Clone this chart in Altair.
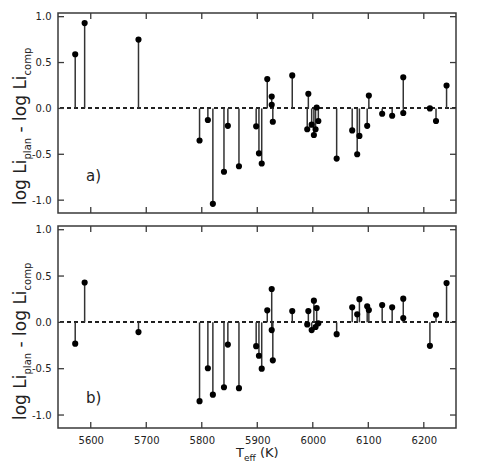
import altair as alt
import pandas as pd

# Effective temperatures (K) of the stars (shared by both panels)
T = [5572, 5589, 5686, 5796, 5811, 5820, 5840, 5847, 5867, 5898, 5903, 5908,
     5918, 5926, 5926, 5928, 5963, 5990, 5992, 5998, 6002, 6005, 6007, 6010,
     6043, 6071, 6080, 6084, 6098, 6101, 6125, 6143, 6163, 6163, 6211, 6222, 6241]
# panel a) log Li_plan - log Li_comp
dA = [0.59, 0.93, 0.75, -0.35, -0.126, -1.04, -0.69, -0.19, -0.63, -0.195, -0.49, -0.60,
      0.32, 0.13, 0.04, -0.145, 0.36, -0.227, 0.16, -0.177, -0.29, -0.227, 0.01, -0.137,
      -0.547, -0.24, -0.50, -0.30, -0.19, 0.14, -0.058, -0.08, 0.34, -0.05, 0.0, -0.137, 0.25]
# panel b)
dB = [-0.23, 0.43, -0.105, -0.85, -0.495, -0.78, -0.70, -0.24, -0.71, -0.257, -0.36, -0.50,
      0.13, 0.36, -0.083, -0.41, 0.122, -0.022, 0.122, -0.083, 0.234, -0.05, 0.155, -0.01,
      -0.127, 0.162, 0.087, 0.25, 0.173, 0.133, 0.187, 0.162, 0.256, 0.047, -0.253, 0.082, 0.425]

yticks = [-1.0, -0.5, 0.0, 0.5, 1.0]
xticks = [5600, 5700, 5800, 5900, 6000, 6100, 6200]
panel_labels = ["a)", "b)"]
ytitle = ["log Li", "plan", "- log Li", "comp"]
xtitle = ["T", "eff", "(K)"]

W = 398
XDOM = [5541, 6258]
YDOM = [-1.14, 1.04]
FONT = "DejaVu Sans"
INK = "#222222"
FRAME = "#3a3a3a"

EM = {" ": 0.318, "-": 0.361, "(": 0.390, ")": 0.390, "K": 0.656, "L": 0.557, "T": 0.611,
      "a": 0.613, "c": 0.550, "e": 0.615, "f": 0.352, "g": 0.635, "i": 0.278, "l": 0.278,
      "m": 0.974, "n": 0.634, "o": 0.612, "p": 0.635}


def tw(s, size):
    return sum(EM.get(c, 0.6) for c in s) * size


xscale = alt.Scale(domain=XDOM, nice=False, zero=False)
yscale = alt.Scale(domain=YDOM, nice=False, zero=False)
yaxis = alt.Axis(values=yticks, ticks=False, tickSize=0, domain=False, grid=False,
                 labelPadding=7, title=None,
                 labelExpr="replace(format(datum.value, '.1f'), '\u2212', '-')")


def panel(vals, label, label_y, H, bottom):
    df = pd.DataFrame({"T": T, "v": vals})
    xaxis = (alt.Axis(values=xticks, ticks=False, tickSize=0, domain=False, grid=False,
                      labelPadding=7, title=None, format="d")
             if bottom else None)
    X = alt.X("T:Q", scale=xscale, axis=xaxis)
    Y = alt.Y("v:Q", scale=yscale, axis=yaxis)

    zero = alt.Chart(df).mark_rule(color="#222222", strokeWidth=1.0, strokeDash=[4, 3]).encode(
        y=alt.datum(0))
    stems = alt.Chart(df).mark_rule(color="#333333", strokeWidth=1.5).encode(
        x=X, y=Y, y2=alt.datum(0))
    pts = alt.Chart(df).mark_circle(size=38, color="black", opacity=1).encode(x=X, y=Y)

    ydf = pd.DataFrame({"v": yticks})
    xdf = pd.DataFrame({"T": xticks})
    tk = dict(color=FRAME, strokeWidth=1.3)
    lt = alt.Chart(ydf).mark_rule(**tk).encode(y=Y, x=alt.value(0), x2=alt.value(6))
    rt = alt.Chart(ydf).mark_rule(**tk).encode(y=Y, x=alt.value(W), x2=alt.value(W - 6))
    tt = alt.Chart(xdf).mark_rule(**tk).encode(x=X, y=alt.value(0), y2=alt.value(6))
    bt = alt.Chart(xdf).mark_rule(**tk).encode(x=X, y=alt.value(H), y2=alt.value(H - 6))

    layers = [zero, stems, pts, lt, rt, tt, bt]

    lab = alt.Chart(pd.DataFrame({"t": [label]})).mark_text(
        font=FONT, fontSize=15, color=INK, align="left", baseline="alphabetic").encode(
        text="t:N", x=alt.value(28), y=alt.value(label_y))
    layers.append(lab)

    # rotated y-axis title with subscripts
    y0 = H - 8
    main_x, sub_x = -32, -27
    sizes = [17, 10, 17, 10]
    pos = []
    cur = y0
    for i, s in enumerate(ytitle):
        pos.append(cur)
        cur -= tw(s, sizes[i])
        if i == 1:
            cur -= tw(" ", 17)
    for i, s in enumerate(ytitle):
        layers.append(alt.Chart(pd.DataFrame({"t": [s]})).mark_text(
            font=FONT, fontSize=sizes[i], color=INK, angle=270, align="left",
            baseline="alphabetic").encode(
            text="t:N", x=alt.value(main_x if sizes[i] == 17 else sub_x),
            y=alt.value(pos[i])))

    if bottom:
        xs = [13, 9, 13]
        cx = 178
        for i, s in enumerate(xtitle):
            layers.append(alt.Chart(pd.DataFrame({"t": [s]})).mark_text(
                font=FONT, fontSize=xs[i], color=INK, align="left",
                baseline="alphabetic").encode(
                text="t:N", x=alt.value(cx), y=alt.value(H + 29 + (4 if xs[i] == 9 else 0))))
            cx += tw(s, xs[i])
            if i == 1:
                cx += tw(" ", 13)

    return alt.layer(*layers).properties(width=W, height=H)


top = panel(dA, panel_labels[0], 168, 200, False)
bot = panel(dB, panel_labels[1], 177, 202, True)

chart = alt.vconcat(top, bot, spacing=13, bounds="flush").properties(
    padding={"left": 3, "top": 2, "right": 5, "bottom": 0}
).configure_view(stroke=FRAME, strokeWidth=1.5).configure_axis(
    labelFont=FONT, labelFontSize=10, labelColor=INK
)

chart.save("out.html", embed_options={"renderer": "svg", "actions": False})
